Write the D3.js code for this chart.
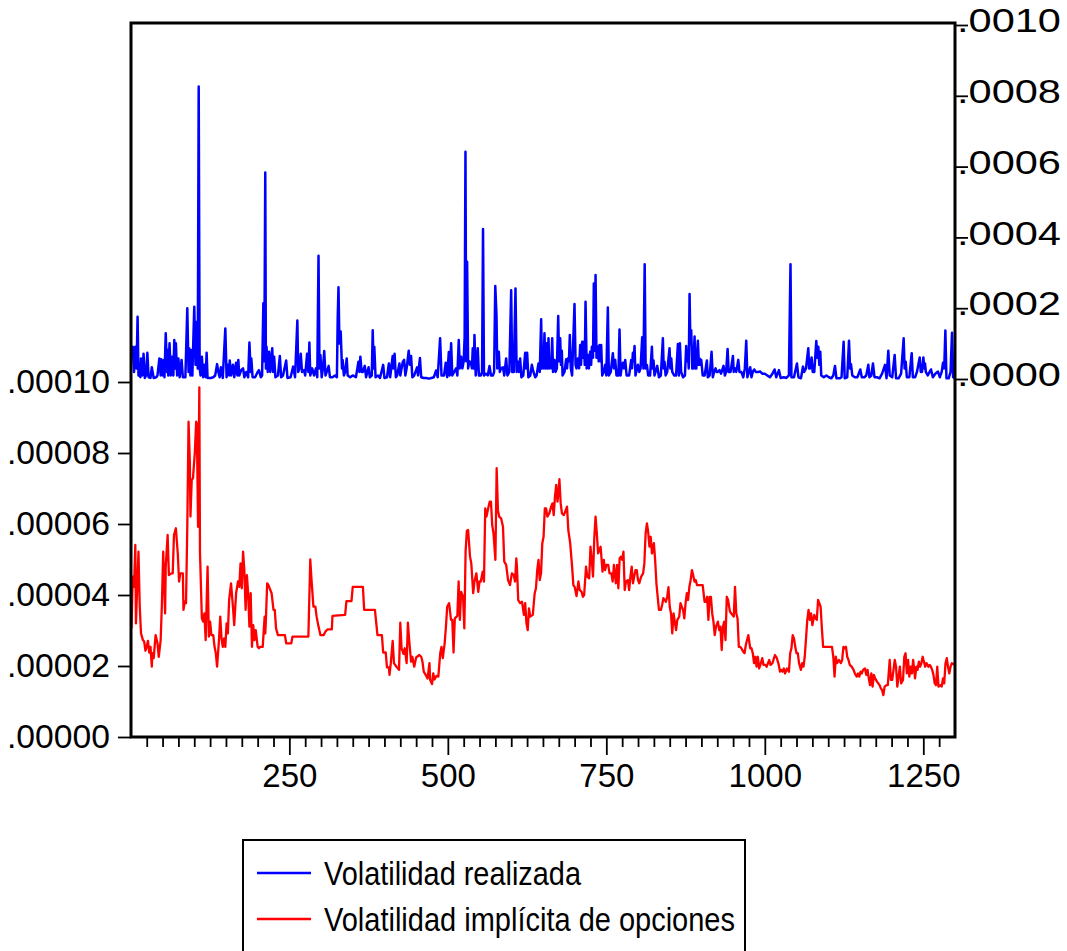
<!DOCTYPE html>
<html>
<head>
<meta charset="utf-8">
<script src="https://cdn.jsdelivr.net/npm/d3@7"></script>
<style>
  html, body { margin: 0; background: #fff; }
  svg { display: block; }
  text { font-family: "Liberation Sans", Arial, sans-serif; fill: #000; }
</style>
</head>
<body>
<div id="chart"></div>
<script>
const realizedLabel = "Volatilidad realizada";
const impliedLabel = "Volatilidad implícita de opciones";

// left axis (implied, units of 1e-5) and right axis (realized, units of 1e-4)
const leftTicks = [0, 2, 4, 6, 8, 10];
const leftTickLabels = [".00000", ".00002", ".00004", ".00006", ".00008", ".00010"];
const rightTicks = [0, 2, 4, 6, 8, 10];
const rightTickLabels = [".0000", ".0002", ".0004", ".0006", ".0008", ".0010"];
const xMajorTicks = [250, 500, 750, 1000, 1250];
const xMinorTicks = d3.range(25, 1300, 25).filter((d) => d % 250 !== 0);

// [observation, realized volatility x 1e-4]
const realized = [
  [1,0.85],[3,0.91],[5,0.2],[7,0.91],[9,0.3],[10.6,1.76],[12,0.1],[13,0.44],[15,0.05],[16,0.58],[18,0.1],[20,0.71],[22,0.03],[24,0.1],[26,0.74],[28,0.05],[31,0.03],[33,0.33],[36,0.03],[40,0.05],[42,0.1],[45,0.58],[47,0.1],[48,0.56],[50,0.1],[52,0.54],[53,0.05],[55,1.29],[57,0.2],[58,0.82],[59,0.1],[61,1.01],[63,0.1],[65,0.63],[67,0.1],[68.5,1.10],[70,0.3],[71,1.01],[73,0.1],[75,0.58],[77,0.05],[80,0.54],[82,0.05],[86,0.05],[89,2.0],[91,0.2],[92,0.87],[94,0.1],[95,0.82],[97,0.1],[100,2.04],[102,0.4],[104,1.62],[105.5,0.3],[107,8.26],[108.5,0.3],[110,0.1],[112,0.63],[114,0.05],[116,0.4],[118,0.05],[119.5,0.74],[121,0.03],[126,0.03],[130,0.05],[133,0.1],[136,0.42],[138,0.2],[140,0.05],[142,0.33],[145,0.03],[149,1.43],[151,0.05],[153,0.4],[155,0.1],[156,0.52],[158,0.1],[161,0.4],[163,0.05],[166,0.46],[168,0.1],[169.5,0.54],[171,0.1],[174,0.25],[177,0.3],[179,0.05],[182,0.2],[185,0.05],[187,1.03],[189,0.2],[190,0.58],[192,0.05],[196,0.05],[200,0.2],[202,0.25],[205,0.05],[207,0.1],[209,2.14],[210.5,0.5],[212,5.83],[213,0.3],[214,0.91],[216,0.2],[218,0.77],[220,0.2],[223,0.87],[224.5,0.2],[226,0.63],[228,0.05],[232,0.1],[235,0.65],[237,0.05],[240,0.1],[245,0.52],[247,0.03],[252,0.05],[256,0.35],[259,0.05],[262.6,1.65],[264,0.2],[266,0.3],[268,0.71],[270,0.2],[273,0.25],[275,0.1],[278,0.71],[280,0.2],[281.6,1.03],[283,0.1],[286,0.3],[289,0.1],[292,0.3],[294,0.05],[296,3.48],[297.5,0.3],[299,0.68],[301,0.05],[303,0.3],[305,0.79],[307,0.1],[309,0.2],[312,0.37],[314,0.05],[318,0.05],[322,0.1],[325,0.05],[326.3,1.74],[327.5,2.59],[329,1.0],[331,1.34],[333,0.3],[334,0.54],[336,0.1],[338,0.2],[340.5,0.58],[342,0.1],[346,0.05],[350,0.1],[355,0.05],[359,0.49],[360.5,0.2],[362,0.63],[364,0.2],[366,0.2],[369,0.37],[371,0.05],[375,0.33],[377,0.05],[380,0.1],[381.5,1.38],[383,0.3],[384,0.91],[386,0.05],[390,0.1],[393,0.03],[398,0.4],[400,0.03],[404,0.05],[407,0.44],[409,0.05],[413,0.65],[414,0.3],[416,0.71],[418,0.05],[420,0.1],[423.6,0.44],[425,0.1],[429,0.49],[431,0.54],[433,0.1],[435,0.3],[438.3,0.8],[440,0.4],[442,0.65],[444,0.05],[447,0.1],[451.5,0.33],[453,0.1],[456,0.59],[458,0.05],[462,0.03],[466,0.03],[470,0.01],[474,0.03],[478,0.05],[481.5,0.24],[484,0.05],[487.8,1.15],[490,0.1],[494,0.1],[496.7,0.46],[499,0.05],[501.5,0.76],[503,0.1],[505.2,1.01],[507,0.1],[510,0.2],[513,0.3],[515,0.1],[517.2,1.10],[519,0.3],[521,0.63],[523,0.3],[525,0.5],[526.5,1.2],[527.8,6.42],[529,0.5],[530.4,3.31],[532,0.3],[534,0.5],[536.7,0.44],[538,0.3],[539.3,0.87],[541,0.3],[542,1.24],[544,0.1],[547.2,0.87],[549,0.1],[552,0.1],[554,0.2],[555.5,4.24],[557,0.1],[560,0.15],[563,0.1],[565.7,0.37],[568,0.1],[571,0.1],[573,0.2],[574.8,2.63],[576.7,1.81],[578,0.3],[580.4,0.77],[582,0.2],[584,0.3],[587,0.33],[589,0.1],[592,0.58],[594,0.1],[597,0.2],[599.9,2.51],[601.5,0.2],[604,0.2],[606.7,2.56],[608.5,0.2],[610.4,0.49],[612,0.2],[614.1,0.58],[616,0.05],[619,0.1],[622,0.74],[623.5,0.3],[625.1,0.74],[627,0.05],[630,0.1],[632.5,0.4],[635,0.2],[638,0.05],[640,0.1],[643,0.44],[645,0.2],[647.2,1.69],[648.5,0.3],[649.8,0.54],[651,0.3],[652.4,1.29],[654,0.3],[655.6,1.01],[657,0.3],[658.8,1.15],[660,0.3],[661.4,0.56],[663,0.3],[664.6,1.15],[666,0.2],[668.2,0.54],[670,0.2],[672,0.3],[674.1,1.78],[675.5,0.5],[677.2,1.15],[678.5,0.4],[679.8,0.8],[681,0.1],[684,0.2],[686.7,0.56],[688,0.3],[689.3,0.58],[691,0.5],[692.4,1.24],[694,0.3],[696,0.1],[699.8,2.12],[701.5,0.4],[703,0.3],[705.1,0.58],[707,0.3],[708.8,0.96],[710,0.4],[711.9,1.05],[713,0.6],[714.5,1.05],[716,0.4],[717.2,2.18],[719,0.3],[720.9,0.68],[722.5,0.3],[724.5,0.77],[726,0.4],[727.2,0.91],[729,0.6],[730.3,2.70],[731.5,0.8],[733,2.94],[734.5,0.6],[736.6,0.91],[738,0.5],[739.3,0.96],[740.5,0.5],[741.9,0.96],[743.5,0.1],[746,0.2],[748.2,0.4],[750,0.1],[752.4,2.02],[754,0.1],[757,0.2],[760.3,0.73],[762,0.3],[764,0.54],[766,0.1],[769,0.1],[770.8,1.40],[772.5,0.1],[774,0.3],[776.1,0.46],[778,0.3],[779.8,0.54],[782,0.1],[786,0.1],[789.2,0.54],[790.5,0.3],[791.9,0.74],[793,0.5],[794.5,0.93],[796,0.1],[799.8,0.4],[802,0.2],[804,0.3],[806.6,1.18],[808.5,0.3],[810.5,3.24],[812,0.3],[814,0.4],[816,0.1],[819,0.1],[821.9,0.91],[823,0.3],[824.5,0.52],[826,0.1],[830.3,0.37],[833,0.05],[836,0.1],[839.2,1.15],[840.5,0.3],[841.8,0.49],[843.5,0.1],[846,0.2],[849.7,0.87],[851,0.3],[852.4,0.58],[854,0.2],[857,0.1],[860,0.1],[862.9,0.99],[864.5,0.1],[866,1.01],[868,0.2],[871,0.05],[874,0.1],[876,0.93],[877.5,0.5],[878.7,0.77],[880,0.3],[881.3,2.40],[882.6,1.0],[883.9,1.38],[885.5,0.3],[887,0.3],[889.2,1.20],[890.5,0.3],[892,0.3],[894.4,1.08],[896,0.4],[897.1,0.58],[898.5,0.4],[899.7,0.54],[902,0.1],[905,0.1],[908.6,0.52],[910,0.05],[913,0.1],[916,0.77],[918,0.05],[920,0.2],[922.3,0.3],[924,0.2],[926,0.2],[928.6,0.25],[931,0.15],[934.9,0.37],[937,0.1],[939,0.2],[941.3,0.85],[943,0.2],[946,0.2],[949.7,0.65],[951,0.2],[953,0.3],[955,0.2],[958.1,0.54],[960,0.2],[963,0.2],[966,0.05],[968.5,0.3],[970.7,1.08],[972.5,0.05],[975,0.2],[977,0.33],[979,0.05],[981,0.2],[983.3,0.27],[986,0.2],[989,0.2],[992.8,0.21],[996,0.15],[1000,0.15],[1004,0.1],[1008,0.05],[1012,0.15],[1015.4,0.27],[1018,0.05],[1022.3,0.25],[1025,0.03],[1030,0.05],[1034,0.03],[1038,0.1],[1040.5,3.24],[1042,0.05],[1046,0.05],[1050.7,0.44],[1053,0.05],[1057,0.02],[1060.2,0.35],[1062,0.2],[1065,0.3],[1068.6,0.87],[1070,0.3],[1071.5,0.3],[1073.8,0.61],[1075.5,0.2],[1078,0.2],[1081.2,1.07],[1082.8,0.6],[1084.4,0.91],[1086,0.4],[1087.5,0.77],[1089,0.1],[1093,0.05],[1097,0.1],[1101,0.05],[1105,0.02],[1108,0.1],[1110.7,0.37],[1113,0.02],[1118,0.02],[1121,0.05],[1124.3,1.05],[1126,0.02],[1130,0.05],[1132.8,1.08],[1134.5,0.3],[1135.9,0.42],[1138,0.1],[1142,0.05],[1146,0.05],[1150.6,0.27],[1153,0.05],[1157,0.05],[1160,0.1],[1163.3,0.4],[1165,0.05],[1168,0.1],[1170.6,0.44],[1173,0.05],[1177,0.05],[1181,0.02],[1185,0.15],[1189.6,0.4],[1192,0.02],[1194.8,0.80],[1197,0.1],[1201,0.05],[1204.8,0.68],[1207,0.02],[1211,0.02],[1215,0.15],[1219,1.15],[1220.5,0.3],[1222.2,0.49],[1224,0.05],[1228,0.05],[1231.7,0.73],[1233.5,0.05],[1237,0.05],[1240,0.2],[1244.3,0.61],[1246,0.2],[1248,0.2],[1250.1,0.61],[1251.5,0.3],[1252.7,0.44],[1254,0.2],[1257,0.1],[1262.2,0.27],[1265,0.05],[1269,0.15],[1273.2,0.21],[1276,0.05],[1279,0.2],[1281.1,0.46],[1283,0.3],[1284.8,1.37],[1286.5,0.02],[1290,0.02],[1293,0.2],[1295.3,1.31],[1297,0.05],[1300,0.02]
];

// [observation, implied volatility x 1e-5]
const implied = [
  [1,3.06],[3,4.52],[5,4.23],[7,5.41],[8,3.20],[10,4.23],[12,5.22],[14,3.67],[16,2.92],[19,2.73],[21,2.69],[23,2.43],[25,2.54],[27,2.71],[29,2.38],[31,2.54],[33,1.98],[34,2.36],[36,2.22],[39,2.87],[42,2.64],[44,2.26],[47,2.73],[49,3.77],[51,5.22],[54,3.48],[55,4.80],[58,5.69],[60,4.56],[64,4.61],[66,4.61],[68,5.69],[71,5.88],[74,5.17],[76,4.38],[78,4.61],[82,4.61],[83,3.58],[85,3.81],[87,3.77],[89,5.92],[91,8.88],[93,7.76],[94,6.21],[96,7.24],[98,7.29],[101,8.04],[103,8.88],[104,8.84],[106,5.92],[108,9.85],[109,5.22],[112,3.34],[114,3.25],[116,3.48],[118,2.73],[121,4.80],[123,2.83],[125,3.25],[127,2.87],[130,2.87],[132,2.54],[134,2.36],[136,1.98],[139,2.73],[141,3.39],[143,2.78],[145,2.54],[147,2.78],[149,2.54],[151,3.20],[153,2.92],[155,3.86],[158,4.33],[161,3.67],[163,3.15],[166,4.05],[169,4.38],[171,4.23],[173,4.89],[175,4.19],[177,5.22],[179,4.70],[181,3.58],[183,4.56],[185,4.05],[187,3.11],[189,4.05],[191,2.54],[193,3.15],[195,2.73],[197,3.01],[200,2.54],[202,2.50],[204,2.54],[208,2.54],[211,3.39],[212,2.92],[213,3.30],[215,4.33],[217,4.28],[222,4.05],[225,3.58],[227,3.58],[229,3.06],[232,2.87],[243,2.87],[245,2.64],[253,2.64],[255,2.83],[280,2.83],[283,5.00],[285,4.42],[288,3.67],[291,3.67],[293,3.39],[296,3.11],[299,2.87],[304,2.87],[307,2.97],[310,3.03],[317,3.03],[318,3.41],[338,3.44],[340,3.83],[348,3.83],[350,4.23],[366,4.23],[368,3.58],[385,3.58],[387,3.22],[389,2.87],[396,2.87],[398,2.38],[402,2.38],[404,1.96],[407,1.96],[408,1.75],[410,2.08],[413,2.71],[415,2.08],[419,1.98],[423,1.89],[425,3.22],[427,2.50],[430,2.34],[432,2.50],[435,2.08],[437,3.22],[439,2.73],[442,2.12],[444,2.26],[447,1.98],[450,2.24],[455,2.31],[458,2.26],[460,2.12],[462,1.84],[465,1.75],[468,1.65],[471,2.08],[472,1.61],[475,1.49],[477,1.79],[479,1.62],[482,1.72],[485,1.70],[488,2.36],[490,2.54],[492,2.22],[495,2.64],[497,3.11],[499,3.67],[502,3.77],[505,3.30],[507,3.30],[509,2.38],[511,3.34],[515,3.41],[517,4.38],[519,3.30],[521,4.09],[524,3.95],[526,3.06],[528,5.22],[530,5.81],[532,5.83],[535,5.08],[537,4.89],[540,4.05],[542,4.38],[545,4.61],[548,4.09],[550,4.38],[552,4.38],[555,4.66],[557,4.38],[559,6.44],[561,6.21],[563,6.39],[566,6.63],[568,6.63],[570,5.97],[572,5.74],[575,4.99],[577,7.57],[579,6.39],[581,6.21],[584,6.16],[587,5.92],[589,4.94],[592,4.85],[595,4.42],[598,4.28],[601,4.61],[604,4.56],[606,4.38],[608,5.03],[609,4.80],[611,3.86],[614,3.77],[617,3.81],[620,3.44],[622,3.77],[624,3.20],[626,3.01],[628,3.62],[630,3.39],[634,3.44],[637,4.05],[639,4.19],[641,4.70],[643,4.99],[645,4.42],[647,4.61],[649,5.46],[651,5.64],[653,6.44],[655,6.44],[657,6.21],[660,6.30],[663,6.49],[665,6.58],[667,6.25],[669,6.77],[671,7.10],[673,6.63],[675,6.99],[676,7.26],[678,6.58],[680,6.30],[683,6.25],[686,6.39],[688,6.49],[690,5.83],[693,5.46],[696,4.80],[698,4.28],[700,4.23],[703,3.97],[706,4.38],[708,4.14],[711,4.09],[713,3.95],[715,4.00],[718,4.80],[720,4.52],[723,4.47],[725,5.36],[727,4.99],[729,4.52],[731,5.60],[733,6.21],[735,5.74],[737,5.17],[739,5.27],[741,5.36],[744,4.66],[746,4.99],[748,4.70],[750,4.85],[753,4.85],[755,4.61],[758,4.61],[760,4.38],[762,4.85],[765,4.33],[767,4.85],[769,4.19],[771,5.03],[773,5.08],[775,4.99],[777,5.22],[779,4.14],[781,4.38],[784,4.42],[786,4.14],[788,4.52],[790,4.80],[792,4.33],[794,4.52],[796,4.70],[798,4.70],[800,4.42],[802,4.33],[805,4.52],[808,4.61],[810,4.89],[812,5.74],[814,6.02],[816,5.78],[818,5.36],[820,5.64],[822,5.17],[825,5.46],[827,4.99],[829,4.33],[831,3.95],[833,3.58],[836,3.58],[838,3.72],[840,3.91],[844,3.81],[846,3.95],[848,4.22],[850,3.67],[852,3.48],[854,2.92],[856,3.48],[858,3.25],[860,3.01],[862,3.30],[865,3.39],[867,3.77],[869,3.67],[871,3.58],[873,3.34],[875,3.77],[877,4.05],[879,3.86],[881,4.23],[883,4.42],[885,4.70],[887,4.56],[889,4.38],[891,4.42],[893,4.28],[902,4.28],[905,3.81],[907,3.81],[909,3.95],[911,3.30],[913,3.95],[915,3.95],[917,3.48],[919,3.25],[921,2.87],[923,3.11],[926,3.25],[928,3.01],[930,3.11],[932,2.45],[934,3.11],[936,3.25],[938,2.73],[940,3.95],[942,3.86],[945,3.53],[947,3.48],[949,3.44],[951,3.39],[953,4.23],[955,3.48],[957,3.34],[959,2.54],[961,2.54],[963,2.50],[966,2.40],[968,2.36],[970,2.59],[972,2.73],[974,2.87],[977,2.50],[979,2.50],[981,2.36],[983,2.08],[985,2.26],[987,1.98],[989,2.26],[991,1.93],[993,2.03],[996,2.22],[998,2.03],[1001,2.03],[1003,1.98],[1005,2.08],[1007,2.17],[1009,2.03],[1012,2.08],[1016,2.31],[1019,2.22],[1022,2.03],[1024,1.84],[1026,1.89],[1028,1.84],[1030,1.93],[1032,1.79],[1035,1.93],[1038,1.84],[1040,2.36],[1042,2.50],[1044,2.87],[1046,2.78],[1048,2.54],[1050,2.36],[1052,2.36],[1054,2.08],[1057,1.89],[1059,2.08],[1061,1.98],[1063,2.26],[1065,2.78],[1067,3.30],[1069,3.58],[1071,3.30],[1073,3.48],[1075,3.15],[1078,3.44],[1080,3.34],[1082,3.30],[1084,3.86],[1086,3.77],[1088,3.67],[1090,3.06],[1092,2.54],[1106,2.54],[1108,2.26],[1110,1.70],[1112,2.26],[1114,2.08],[1117,2.17],[1120,2.08],[1122,2.17],[1124,2.54],[1126,2.50],[1128,2.54],[1130,2.26],[1132,2.17],[1134,2.03],[1137,1.98],[1140,1.89],[1142,1.79],[1145,1.70],[1147,1.79],[1149,1.70],[1151,1.84],[1153,1.79],[1155,1.89],[1158,1.93],[1160,1.75],[1162,1.89],[1164,1.65],[1166,1.46],[1168,1.79],[1170,1.42],[1172,1.75],[1174,1.65],[1177,1.56],[1179,1.51],[1181,1.46],[1183,1.37],[1185,1.32],[1187,1.18],[1189,1.42],[1192,1.46],[1194,1.46],[1197,2.17],[1199,1.61],[1201,1.61],[1203,1.89],[1205,2.17],[1207,1.98],[1209,1.42],[1211,1.70],[1213,1.98],[1215,1.51],[1218,1.61],[1220,2.26],[1222,2.36],[1224,1.79],[1226,2.17],[1228,1.70],[1230,1.98],[1232,1.79],[1234,2.17],[1237,1.65],[1239,1.98],[1241,1.89],[1243,2.12],[1245,1.98],[1247,2.08],[1249,2.26],[1251,2.12],[1253,1.98],[1255,2.08],[1258,1.98],[1260,2.03],[1262,1.98],[1264,1.89],[1266,1.75],[1268,1.51],[1270,1.46],[1272,1.98],[1274,1.42],[1277,1.46],[1279,1.42],[1281,1.65],[1283,1.51],[1285,2.08],[1287,2.22],[1289,1.98],[1291,1.79],[1293,1.98],[1295,2.08],[1300,2.03]
];

const width = 1067;
const height = 951;
const frame = { left: 131, right: 955, top: 23, bottom: 737 };
const FONT = 33;

const svg = d3
  .select("#chart")
  .append("svg")
  .attr("width", width)
  .attr("height", height);

const x = d3.scaleLinear().domain([1, 1300]).range([131.5, 955]);
const yRight = d3.scaleLinear().domain([0, 10]).range([379, 25]);
const yLeft = d3.scaleLinear().domain([0, 10]).range([737, 382]);

const line = (yScale) =>
  d3
    .line()
    .x((d) => x(d[0]))
    .y((d) => yScale(d[1]));

svg
  .append("path")
  .datum(realized)
  .attr("fill", "none")
  .attr("stroke", "#0000ff")
  .attr("stroke-width", 2.5)
  .attr("stroke-linejoin", "round")
  .attr("d", line(yRight));

svg
  .append("path")
  .datum(implied)
  .attr("fill", "none")
  .attr("stroke", "#ff0000")
  .attr("stroke-width", 2.3)
  .attr("stroke-linejoin", "round")
  .attr("d", line(yLeft));

// axes
function styleAxis(g) {
  g.select(".domain").remove();
  g.selectAll(".tick line").attr("stroke", "#000").attr("stroke-width", 1.8);
  g.selectAll(".tick text")
    .attr("font-size", FONT)
    .attr("font-family", "'Liberation Sans', Arial, sans-serif")
    .attr("fill", "#000");
}

svg
  .append("g")
  .attr("transform", `translate(${frame.left},0)`)
  .call(
    d3
      .axisLeft(yLeft)
      .tickValues(leftTicks)
      .tickSize(13)
      .tickPadding(8)
      .tickFormat((d, i) => leftTickLabels[i])
  )
  .call(styleAxis)
  .selectAll(".tick text")
  .attr("textLength", 103)
  .attr("lengthAdjust", "spacingAndGlyphs");

svg
  .append("g")
  .attr("transform", `translate(${frame.right},0)`)
  .call(
    d3
      .axisRight(yRight)
      .tickValues(rightTicks)
      .tickSize(13)
      .tickPadding(-11)
      .tickFormat((d, i) => rightTickLabels[i])
  )
  .call(styleAxis)
  .selectAll(".tick text")
  .attr("dy", "0.2em")
  .attr("textLength", 104)
  .attr("lengthAdjust", "spacingAndGlyphs");

svg
  .append("g")
  .attr("transform", `translate(0,${frame.bottom})`)
  .call(d3.axisBottom(x).tickValues(xMinorTicks).tickSize(10).tickFormat(""))
  .call(styleAxis);

svg
  .append("g")
  .attr("transform", `translate(0,${frame.bottom})`)
  .call(d3.axisBottom(x).tickValues(xMajorTicks).tickSize(18).tickPadding(9).tickFormat(d3.format("d")))
  .call(styleAxis);

// plot frame
svg
  .append("rect")
  .attr("x", frame.left)
  .attr("y", frame.top)
  .attr("width", frame.right - frame.left)
  .attr("height", frame.bottom - frame.top)
  .attr("fill", "none")
  .attr("stroke", "#000")
  .attr("stroke-width", 3);

// legend
const legend = svg.append("g");
legend
  .append("rect")
  .attr("x", 243)
  .attr("y", 840)
  .attr("width", 502)
  .attr("height", 112)
  .attr("fill", "none")
  .attr("stroke", "#000")
  .attr("stroke-width", 2);

const legendItems = [
  { label: realizedLabel, color: "#0000ff", y: 873, width: 257 },
  { label: impliedLabel, color: "#ff0000", y: 919, width: 411 },
];

legendItems.forEach((d) => {
  legend
    .append("line")
    .attr("x1", 257)
    .attr("x2", 311)
    .attr("y1", d.y)
    .attr("y2", d.y)
    .attr("stroke", d.color)
    .attr("stroke-width", 2.5);
  legend
    .append("text")
    .attr("x", 324)
    .attr("y", d.y + 12)
    .attr("font-size", 34)
    .attr("textLength", d.width)
    .attr("lengthAdjust", "spacingAndGlyphs")
    .text(d.label);
});
</script>
</body>
</html>
